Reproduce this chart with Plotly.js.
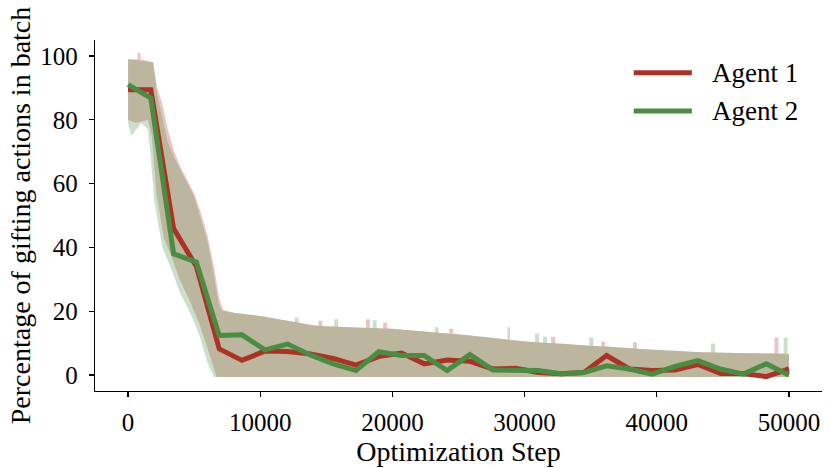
<!DOCTYPE html>
<html>
<head>
<meta charset="utf-8">
<script src="https://cdn.plot.ly/plotly-3.0.1.min.js"></script>
<style>html,body{margin:0;padding:0;background:#fff;}#chart{width:831px;height:468px;}</style>
</head>
<body>
<div id="chart"></div>
<script>
// Smoothed series (every ~1724 steps)
const steps = [0,1724,3448,5172,6897,8621,10345,12069,13793,15517,17241,18966,20690,22414,24138,25862,27586,29310,31034,32759,34483,36207,37931,39655,41379,43103,44828,46552,48276,50000];
const agent1 = [89.4,89.4,45.9,34.0,8.2,4.6,7.5,7.4,6.6,5.2,3.1,5.8,6.9,3.5,4.7,4.3,1.9,2.1,0.8,0.4,0.8,6.1,1.9,1.4,1.6,3.3,0.5,0.5,-0.5,1.9];
const agent2 = [91.0,86.8,38.0,35.4,12.4,12.6,7.9,9.7,6.3,3.5,1.4,7.3,6.1,6.1,1.4,6.4,1.6,1.6,1.4,0.4,0.8,2.9,1.9,0.3,2.7,4.5,1.9,0.3,3.5,0.0];

// Raw-data band edges (upper / lower envelope of the noisy per-step values)
const agent1UpX = [0,700,700,950,950,1900,2200,2600,3000,3500,4000,4500,5000,5500,6000,6500,6900,7200,8000,10000,12000,14000,14400,14400,14700,14700,18000,18000,18300,18300,19300,19300,19600,19600,20000,24300,24300,24600,24600,25000,28000,30000,32000,32000,32300,32300,35000,35800,35800,36100,36100,38200,38200,38500,38500,40000,43000,46000,48900,48900,49200,49200,50000];
const agent1UpY = [99,99,101,101,99,98,90,85,77,70,65,61,57,51,44,34,24,20.5,19.5,18.5,17,15.5,15.4,17,17,15.3,14.8,17.5,17.5,14.8,14.6,16.5,16.5,14.6,14.5,13,14.5,14.5,12.9,12.8,11.5,10.5,10,12,12,10,9.2,9,10.5,10.5,9,8.3,10.3,10.3,8.2,7.8,7.2,6.9,6.8,11.8,11.8,6.8,6.6];
const agent1LoX = [0,600,1500,1800,2150,2700,3300,3900,4700,5400,6200,6700,50000];
const agent1LoY = [80,79,80,75,57,43,37,30,23,16,6,-0.6,-0.6];

const agent2UpX = [0,1900,2200,2600,3000,3500,4000,4500,5000,5500,6000,6500,6900,7200,8000,10000,12000,12600,12600,12900,12900,14000,15600,15600,15900,15900,18500,18500,18800,18800,20000,23200,23200,23500,23500,25000,28000,28700,28700,28900,28900,30000,30800,30800,31100,31100,31400,31400,31700,31700,34900,34900,35200,35200,40000,43000,44100,44100,44400,44400,46000,49600,49600,49900,49900,50000];
const agent2UpY = [99,98,88,81,73,68,64,60,56,49,42,31,21.5,20,19.5,18.5,17,16.6,18,18,16.4,15.5,15.2,17.5,17.5,15.1,14.7,17.2,17.2,14.7,14.5,13.3,15,15,13.2,12.8,11.5,11.2,15,15,11.1,10.5,10.3,13,13,10.2,10.1,12,12,10.1,9.2,11.8,11.8,9.1,7.8,7.2,7.1,9.9,9.9,7.1,6.9,6.7,11.8,11.8,6.6,6.6];
const agent2LoX = [0,250,450,1000,1500,1700,2000,2600,3300,3900,4700,5400,6000,6500,50000];
const agent2LoY = [79,75,76,79,77,69,54,40,33,26,19.5,12.5,4,-0.6,-0.6];

const xTicks = [0,10000,20000,30000,40000,50000];
const yTicks = [0,20,40,60,80,100];
const seriesNames = ['Agent 1','Agent 2'];

const RED = '#ac3226';
const GREEN = '#4b8c43';
const RED_FILL = 'rgba(178,50,38,0.28)';
const GREEN_FILL = 'rgba(70,140,65,0.28)';
const FONT = 'Liberation Serif, DejaVu Serif, serif';

const traces = [
  {x: agent1LoX, y: agent1LoY, type:'scatter', mode:'lines', line:{width:0, color:RED_FILL}, hoverinfo:'skip', showlegend:false},
  {x: agent1UpX, y: agent1UpY, type:'scatter', mode:'lines', line:{width:0, color:RED_FILL}, fill:'tonexty', fillcolor:RED_FILL, hoverinfo:'skip', showlegend:false},
  {x: agent2LoX, y: agent2LoY, type:'scatter', mode:'lines', line:{width:0, color:GREEN_FILL}, hoverinfo:'skip', showlegend:false},
  {x: agent2UpX, y: agent2UpY, type:'scatter', mode:'lines', line:{width:0, color:GREEN_FILL}, fill:'tonexty', fillcolor:GREEN_FILL, hoverinfo:'skip', showlegend:false},
  {x: steps, y: agent1, type:'scatter', mode:'lines', name: seriesNames[0], line:{color:RED, width:5}, showlegend:false},
  {x: steps, y: agent2, type:'scatter', mode:'lines', name: seriesNames[1], line:{color:GREEN, width:5}, showlegend:false}
];

// custom legend (long swatches like the reference)
const legendY = [0.907, 0.798];
const legendColors = [RED, GREEN];
const shapes = [];
const annotations = [];
for (let i = 0; i < seriesNames.length; i++) {
  shapes.push({type:'line', xref:'paper', yref:'paper', x0:0.741, x1:0.821, y0:legendY[i], y1:legendY[i], line:{color:legendColors[i], width:5}});
  annotations.push({xref:'paper', yref:'paper', x:0.846, y:legendY[i], xanchor:'left', yanchor:'middle', text:seriesNames[i], showarrow:false, font:{family:FONT, size:27, color:'#000'}});
}

const layout = {
  width: 831, height: 468,
  margin: {l:95, r:9, t:40, b:77},
  paper_bgcolor:'#fff', plot_bgcolor:'#fff',
  font: {family: FONT, size: 25, color:'#000'},
  showlegend: false,
  xaxis: {
    range: [-2500, 52500],
    tickvals: xTicks, tickformat: 'd',
    ticks: 'outside', ticklen: 5, tickwidth: 1.2, tickcolor:'#000',
    ticklabelstandoff: 4,
    showline: true, linecolor: '#000', linewidth: 1.3,
    showgrid: false, zeroline: false,
    tickfont: {family: FONT, size: 25},
    title: {text: 'Optimization Step', font: {family: FONT, size: 28}, standoff: 6}
  },
  yaxis: {
    range: [-5, 105],
    tickvals: yTicks,
    ticks: 'outside', ticklen: 5, tickwidth: 1.2, tickcolor:'#000',
    ticklabelstandoff: 6,
    showline: true, linecolor: '#000', linewidth: 1.3,
    showgrid: false, zeroline: false,
    tickfont: {family: FONT, size: 25},
    title: {text: 'Percentage of gifting actions in batch', font: {family: FONT, size: 28}, standoff: 1}
  },
  shapes: shapes,
  annotations: annotations
};

Plotly.newPlot('chart', traces, layout, {staticPlot: true, displayModeBar: false});
</script>
</body>
</html>
